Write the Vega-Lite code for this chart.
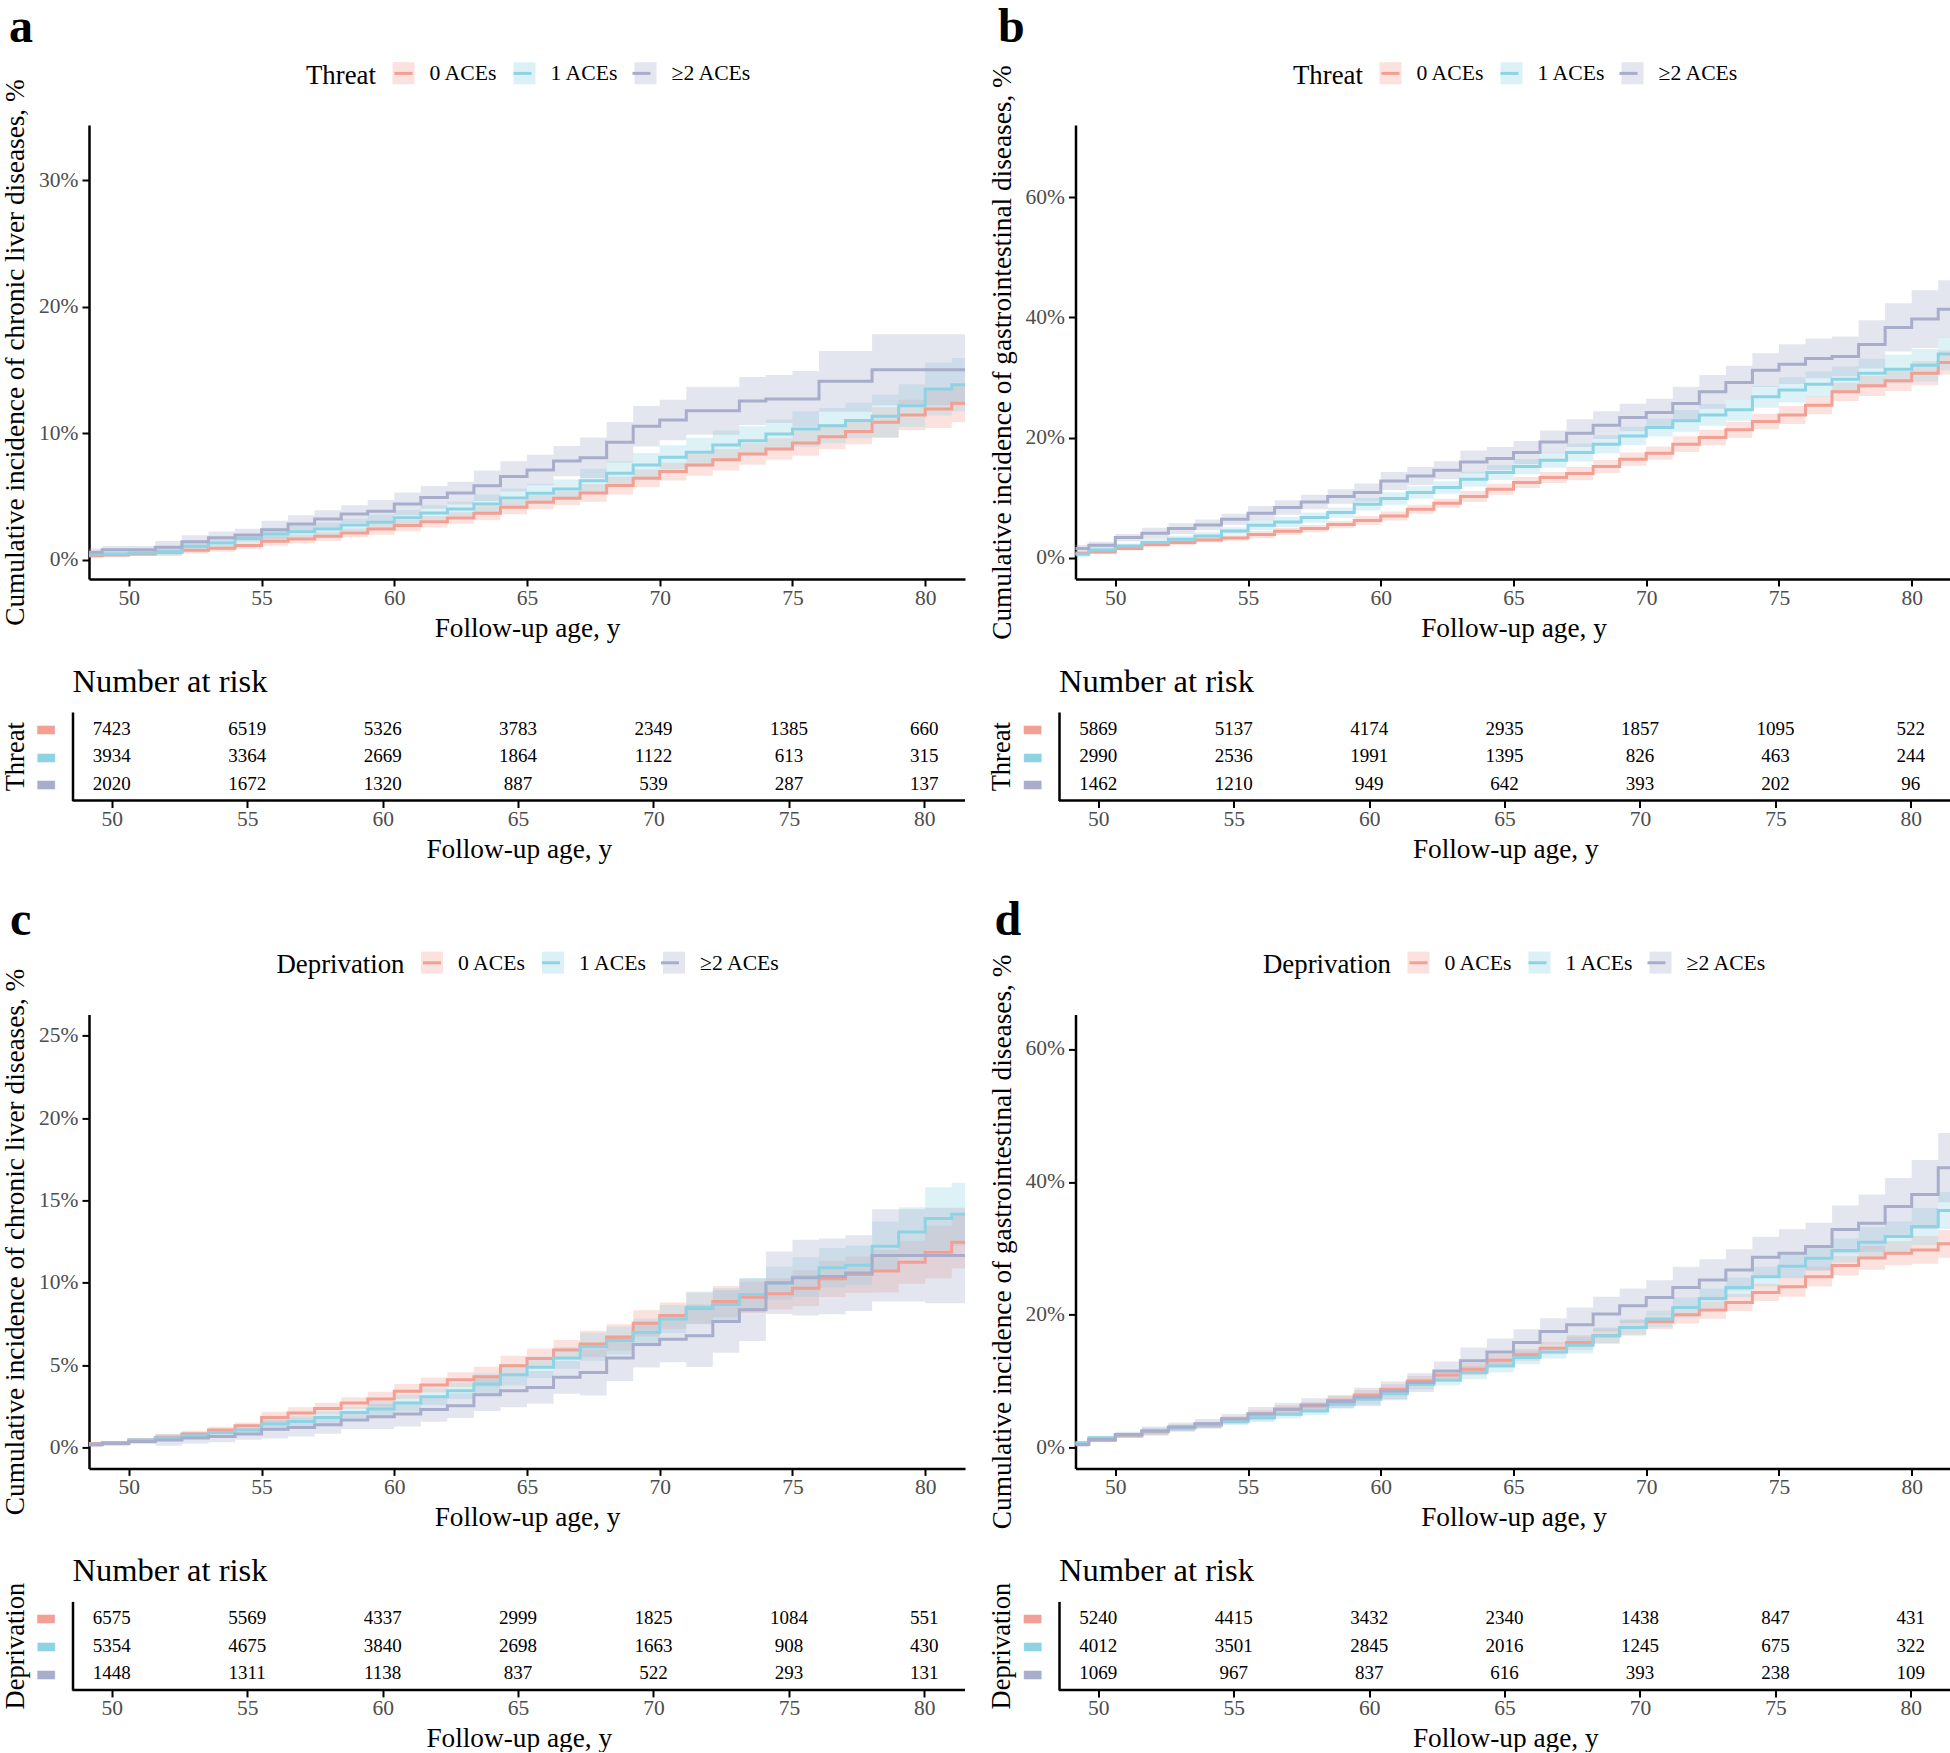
{
"$schema": "https://vega.github.io/schema/vega-lite/v6.json",
"background": "white",
"padding": {"left": 1, "top": 3, "right": 0, "bottom": 0},
"config": {
  "view": {"stroke": null},
  "axis": {"grid": false, "labelFont": "Liberation Serif", "titleFont": "Liberation Serif", "labelFlush": false, "labelOverlap": false, "labelBound": false},
  "legend": {"labelFont": "Liberation Serif", "titleFont": "Liberation Serif"},
  "title": {"font": "Liberation Serif"},
  "text": {"font": "Liberation Serif"}
},
"datasets": {
"cA": [
{"x":48.5,"g":"0 ACEs","y":0.31,"l":0.16,"h":0.46},{"x":49,"g":"0 ACEs","y":0.37,"l":0.22,"h":0.52},{"x":50,"g":"0 ACEs","y":0.44,"l":0.29,"h":0.59},{"x":51,"g":"0 ACEs","y":0.58,"l":0.33,"h":0.83},{"x":52,"g":"0 ACEs","y":0.74,"l":0.49,"h":0.99},{"x":53,"g":"0 ACEs","y":0.9,"l":0.65,"h":1.15},{"x":54,"g":"0 ACEs","y":1.11,"l":0.86,"h":1.36},{"x":55,"g":"0 ACEs","y":1.45,"l":1.1,"h":1.8},{"x":56,"g":"0 ACEs","y":1.63,"l":1.28,"h":1.98},{"x":57,"g":"0 ACEs","y":1.84,"l":1.49,"h":2.19},{"x":58,"g":"0 ACEs","y":2.11,"l":1.76,"h":2.46},{"x":59,"g":"0 ACEs","y":2.42,"l":1.97,"h":2.87},{"x":60,"g":"0 ACEs","y":2.69,"l":2.24,"h":3.14},{"x":61,"g":"0 ACEs","y":3.0,"l":2.55,"h":3.45},{"x":62,"g":"0 ACEs","y":3.29,"l":2.84,"h":3.74},{"x":63,"g":"0 ACEs","y":3.66,"l":3.11,"h":4.21},{"x":64,"g":"0 ACEs","y":4.14,"l":3.59,"h":4.69},{"x":65,"g":"0 ACEs","y":4.53,"l":3.98,"h":5.08},{"x":66,"g":"0 ACEs","y":4.85,"l":4.3,"h":5.4},{"x":67,"g":"0 ACEs","y":5.27,"l":4.57,"h":5.97},{"x":68,"g":"0 ACEs","y":5.85,"l":5.15,"h":6.55},{"x":69,"g":"0 ACEs","y":6.43,"l":5.73,"h":7.13},{"x":70,"g":"0 ACEs","y":6.96,"l":6.26,"h":7.66},{"x":71,"g":"0 ACEs","y":7.48,"l":6.63,"h":8.33},{"x":72,"g":"0 ACEs","y":7.9,"l":7.05,"h":8.75},{"x":73,"g":"0 ACEs","y":8.35,"l":7.5,"h":9.2},{"x":74,"g":"0 ACEs","y":8.75,"l":7.9,"h":9.6},{"x":75,"g":"0 ACEs","y":9.22,"l":8.22,"h":10.22},{"x":76,"g":"0 ACEs","y":9.72,"l":8.72,"h":10.72},{"x":77,"g":"0 ACEs","y":10.12,"l":9.12,"h":11.12},{"x":78,"g":"0 ACEs","y":10.85,"l":9.65,"h":12.05},{"x":79,"g":"0 ACEs","y":11.43,"l":10.23,"h":12.63},{"x":80,"g":"0 ACEs","y":11.9,"l":10.4,"h":13.4},{"x":81,"g":"0 ACEs","y":12.35,"l":10.85,"h":13.85},{"x":81.5,"g":"0 ACEs","y":12.35,"l":10.85,"h":13.85},
{"x":48.5,"g":"1 ACEs","y":0.44,"l":0.24,"h":0.64},{"x":49,"g":"1 ACEs","y":0.44,"l":0.24,"h":0.64},{"x":50,"g":"1 ACEs","y":0.52,"l":0.32,"h":0.72},{"x":51,"g":"1 ACEs","y":0.63,"l":0.28,"h":0.98},{"x":52,"g":"1 ACEs","y":1.05,"l":0.7,"h":1.4},{"x":53,"g":"1 ACEs","y":1.32,"l":0.97,"h":1.67},{"x":54,"g":"1 ACEs","y":1.68,"l":1.33,"h":2.03},{"x":55,"g":"1 ACEs","y":2.02,"l":1.52,"h":2.52},{"x":56,"g":"1 ACEs","y":2.21,"l":1.71,"h":2.71},{"x":57,"g":"1 ACEs","y":2.42,"l":1.92,"h":2.92},{"x":58,"g":"1 ACEs","y":2.74,"l":2.24,"h":3.24},{"x":59,"g":"1 ACEs","y":2.95,"l":2.35,"h":3.55},{"x":60,"g":"1 ACEs","y":3.32,"l":2.72,"h":3.92},{"x":61,"g":"1 ACEs","y":3.69,"l":3.09,"h":4.29},{"x":62,"g":"1 ACEs","y":4.0,"l":3.4,"h":4.6},{"x":63,"g":"1 ACEs","y":4.4,"l":3.65,"h":5.15},{"x":64,"g":"1 ACEs","y":4.87,"l":4.12,"h":5.62},{"x":65,"g":"1 ACEs","y":5.24,"l":4.49,"h":5.99},{"x":66,"g":"1 ACEs","y":5.58,"l":4.83,"h":6.33},{"x":67,"g":"1 ACEs","y":6.24,"l":5.29,"h":7.19},{"x":68,"g":"1 ACEs","y":6.82,"l":5.87,"h":7.77},{"x":69,"g":"1 ACEs","y":7.48,"l":6.53,"h":8.43},{"x":70,"g":"1 ACEs","y":8.09,"l":7.14,"h":9.04},{"x":71,"g":"1 ACEs","y":8.48,"l":7.33,"h":9.63},{"x":72,"g":"1 ACEs","y":9.06,"l":7.91,"h":10.21},{"x":73,"g":"1 ACEs","y":9.4,"l":8.25,"h":10.55},{"x":74,"g":"1 ACEs","y":9.93,"l":8.78,"h":11.08},{"x":75,"g":"1 ACEs","y":10.33,"l":8.93,"h":11.73},{"x":76,"g":"1 ACEs","y":10.59,"l":9.19,"h":11.99},{"x":77,"g":"1 ACEs","y":10.99,"l":9.59,"h":12.39},{"x":78,"g":"1 ACEs","y":11.33,"l":9.63,"h":13.03},{"x":79,"g":"1 ACEs","y":12.17,"l":10.47,"h":13.87},{"x":80,"g":"1 ACEs","y":13.49,"l":11.39,"h":15.59},{"x":81,"g":"1 ACEs","y":13.83,"l":11.73,"h":15.93},{"x":81.5,"g":"1 ACEs","y":13.83,"l":11.73,"h":15.93},
{"x":48.5,"g":"≥2 ACEs","y":0.58,"l":0.28,"h":0.88},{"x":49,"g":"≥2 ACEs","y":0.78,"l":0.48,"h":1.08},{"x":50,"g":"≥2 ACEs","y":0.78,"l":0.48,"h":1.08},{"x":51,"g":"≥2 ACEs","y":0.97,"l":0.47,"h":1.47},{"x":52,"g":"≥2 ACEs","y":1.42,"l":0.92,"h":1.92},{"x":53,"g":"≥2 ACEs","y":1.73,"l":1.23,"h":2.23},{"x":54,"g":"≥2 ACEs","y":1.94,"l":1.44,"h":2.44},{"x":55,"g":"≥2 ACEs","y":2.37,"l":1.67,"h":3.07},{"x":56,"g":"≥2 ACEs","y":2.81,"l":2.11,"h":3.51},{"x":57,"g":"≥2 ACEs","y":3.21,"l":2.51,"h":3.91},{"x":58,"g":"≥2 ACEs","y":3.6,"l":2.9,"h":4.3},{"x":59,"g":"≥2 ACEs","y":3.82,"l":2.92,"h":4.72},{"x":60,"g":"≥2 ACEs","y":4.4,"l":3.5,"h":5.3},{"x":61,"g":"≥2 ACEs","y":4.92,"l":4.02,"h":5.82},{"x":62,"g":"≥2 ACEs","y":5.26,"l":4.36,"h":6.16},{"x":63,"g":"≥2 ACEs","y":5.84,"l":4.64,"h":7.04},{"x":64,"g":"≥2 ACEs","y":6.58,"l":5.38,"h":7.78},{"x":65,"g":"≥2 ACEs","y":7.08,"l":5.88,"h":8.28},{"x":66,"g":"≥2 ACEs","y":7.79,"l":6.59,"h":8.99},{"x":67,"g":"≥2 ACEs","y":8.06,"l":6.46,"h":9.66},{"x":68,"g":"≥2 ACEs","y":9.27,"l":7.67,"h":10.87},{"x":69,"g":"≥2 ACEs","y":10.54,"l":8.94,"h":12.14},{"x":70,"g":"≥2 ACEs","y":11.04,"l":9.44,"h":12.64},{"x":71,"g":"≥2 ACEs","y":11.77,"l":9.87,"h":13.67},{"x":72,"g":"≥2 ACEs","y":11.77,"l":9.87,"h":13.67},{"x":73,"g":"≥2 ACEs","y":12.54,"l":10.64,"h":14.44},{"x":74,"g":"≥2 ACEs","y":12.7,"l":10.8,"h":14.6},{"x":75,"g":"≥2 ACEs","y":12.7,"l":10.5,"h":14.9},{"x":76,"g":"≥2 ACEs","y":14.09,"l":11.69,"h":16.49},{"x":77,"g":"≥2 ACEs","y":14.09,"l":11.69,"h":16.49},{"x":78,"g":"≥2 ACEs","y":15.01,"l":12.21,"h":17.81},{"x":79,"g":"≥2 ACEs","y":15.01,"l":12.21,"h":17.81},{"x":80,"g":"≥2 ACEs","y":15.01,"l":12.21,"h":17.81},{"x":81,"g":"≥2 ACEs","y":15.01,"l":12.21,"h":17.81},{"x":81.5,"g":"≥2 ACEs","y":15.01,"l":12.21,"h":17.81}
],
"cB": [
{"x":48.5,"g":"0 ACEs","y":0.78,"l":0.48,"h":1.08},{"x":49,"g":"0 ACEs","y":1.0,"l":0.7,"h":1.3},{"x":50,"g":"0 ACEs","y":1.56,"l":1.26,"h":1.86},{"x":51,"g":"0 ACEs","y":2.23,"l":1.78,"h":2.68},{"x":52,"g":"0 ACEs","y":2.56,"l":2.11,"h":3.01},{"x":53,"g":"0 ACEs","y":3.0,"l":2.55,"h":3.45},{"x":54,"g":"0 ACEs","y":3.33,"l":2.88,"h":3.78},{"x":55,"g":"0 ACEs","y":3.89,"l":3.29,"h":4.49},{"x":56,"g":"0 ACEs","y":4.44,"l":3.84,"h":5.04},{"x":57,"g":"0 ACEs","y":4.89,"l":4.29,"h":5.49},{"x":58,"g":"0 ACEs","y":5.56,"l":4.96,"h":6.16},{"x":59,"g":"0 ACEs","y":6.22,"l":5.47,"h":6.97},{"x":60,"g":"0 ACEs","y":6.99,"l":6.24,"h":7.74},{"x":61,"g":"0 ACEs","y":8.1,"l":7.35,"h":8.85},{"x":62,"g":"0 ACEs","y":9.1,"l":8.35,"h":9.85},{"x":63,"g":"0 ACEs","y":10.22,"l":9.32,"h":11.12},{"x":64,"g":"0 ACEs","y":11.43,"l":10.53,"h":12.33},{"x":65,"g":"0 ACEs","y":12.55,"l":11.65,"h":13.45},{"x":66,"g":"0 ACEs","y":13.38,"l":12.48,"h":14.28},{"x":67,"g":"0 ACEs","y":14.04,"l":12.94,"h":15.14},{"x":68,"g":"0 ACEs","y":15.21,"l":14.11,"h":16.31},{"x":69,"g":"0 ACEs","y":16.42,"l":15.32,"h":17.52},{"x":70,"g":"0 ACEs","y":17.42,"l":16.32,"h":18.52},{"x":71,"g":"0 ACEs","y":18.92,"l":17.62,"h":20.22},{"x":72,"g":"0 ACEs","y":20.03,"l":18.73,"h":21.33},{"x":73,"g":"0 ACEs","y":21.3,"l":20.0,"h":22.6},{"x":74,"g":"0 ACEs","y":22.7,"l":21.4,"h":24.0},{"x":75,"g":"0 ACEs","y":23.79,"l":22.29,"h":25.29},{"x":76,"g":"0 ACEs","y":25.41,"l":23.91,"h":26.91},{"x":77,"g":"0 ACEs","y":27.62,"l":26.12,"h":29.12},{"x":78,"g":"0 ACEs","y":28.62,"l":26.92,"h":30.32},{"x":79,"g":"0 ACEs","y":29.45,"l":27.75,"h":31.15},{"x":80,"g":"0 ACEs","y":30.73,"l":28.73,"h":32.73},{"x":81,"g":"0 ACEs","y":32.5,"l":30.5,"h":34.5},{"x":81.5,"g":"0 ACEs","y":32.5,"l":30.5,"h":34.5},
{"x":48.5,"g":"1 ACEs","y":0.62,"l":0.22,"h":1.02},{"x":49,"g":"1 ACEs","y":1.33,"l":0.93,"h":1.73},{"x":50,"g":"1 ACEs","y":2.0,"l":1.6,"h":2.4},{"x":51,"g":"1 ACEs","y":2.56,"l":1.96,"h":3.16},{"x":52,"g":"1 ACEs","y":3.11,"l":2.51,"h":3.71},{"x":53,"g":"1 ACEs","y":3.66,"l":3.06,"h":4.26},{"x":54,"g":"1 ACEs","y":4.49,"l":3.89,"h":5.09},{"x":55,"g":"1 ACEs","y":5.44,"l":4.59,"h":6.29},{"x":56,"g":"1 ACEs","y":5.99,"l":5.14,"h":6.84},{"x":57,"g":"1 ACEs","y":6.72,"l":5.87,"h":7.57},{"x":58,"g":"1 ACEs","y":7.55,"l":6.7,"h":8.4},{"x":59,"g":"1 ACEs","y":8.94,"l":7.89,"h":9.99},{"x":60,"g":"1 ACEs","y":9.88,"l":8.83,"h":10.93},{"x":61,"g":"1 ACEs","y":10.88,"l":9.83,"h":11.93},{"x":62,"g":"1 ACEs","y":11.71,"l":10.66,"h":12.76},{"x":63,"g":"1 ACEs","y":13.09,"l":11.84,"h":14.34},{"x":64,"g":"1 ACEs","y":14.2,"l":12.95,"h":15.45},{"x":65,"g":"1 ACEs","y":15.21,"l":13.96,"h":16.46},{"x":66,"g":"1 ACEs","y":16.26,"l":15.01,"h":17.51},{"x":67,"g":"1 ACEs","y":17.54,"l":16.04,"h":19.04},{"x":68,"g":"1 ACEs","y":18.92,"l":17.42,"h":20.42},{"x":69,"g":"1 ACEs","y":20.3,"l":18.8,"h":21.8},{"x":70,"g":"1 ACEs","y":21.7,"l":20.2,"h":23.2},{"x":71,"g":"1 ACEs","y":22.8,"l":21.0,"h":24.6},{"x":72,"g":"1 ACEs","y":23.79,"l":21.99,"h":25.59},{"x":73,"g":"1 ACEs","y":24.63,"l":22.83,"h":26.43},{"x":74,"g":"1 ACEs","y":26.79,"l":24.99,"h":28.59},{"x":75,"g":"1 ACEs","y":27.95,"l":25.85,"h":30.05},{"x":76,"g":"1 ACEs","y":28.9,"l":26.8,"h":31.0},{"x":77,"g":"1 ACEs","y":29.73,"l":27.63,"h":31.83},{"x":78,"g":"1 ACEs","y":30.73,"l":28.33,"h":33.13},{"x":79,"g":"1 ACEs","y":31.4,"l":29.0,"h":33.8},{"x":80,"g":"1 ACEs","y":32.06,"l":29.36,"h":34.76},{"x":81,"g":"1 ACEs","y":33.9,"l":31.2,"h":36.6},{"x":81.5,"g":"1 ACEs","y":33.9,"l":31.2,"h":36.6},
{"x":48.5,"g":"≥2 ACEs","y":1.56,"l":0.96,"h":2.16},{"x":49,"g":"≥2 ACEs","y":2.11,"l":1.51,"h":2.71},{"x":50,"g":"≥2 ACEs","y":3.39,"l":2.79,"h":3.99},{"x":51,"g":"≥2 ACEs","y":4.11,"l":3.21,"h":5.01},{"x":52,"g":"≥2 ACEs","y":4.89,"l":3.99,"h":5.79},{"x":53,"g":"≥2 ACEs","y":5.49,"l":4.59,"h":6.39},{"x":54,"g":"≥2 ACEs","y":6.44,"l":5.54,"h":7.34},{"x":55,"g":"≥2 ACEs","y":7.44,"l":6.24,"h":8.64},{"x":56,"g":"≥2 ACEs","y":8.39,"l":7.19,"h":9.59},{"x":57,"g":"≥2 ACEs","y":9.32,"l":8.12,"h":10.52},{"x":58,"g":"≥2 ACEs","y":10.22,"l":9.02,"h":11.42},{"x":59,"g":"≥2 ACEs","y":10.88,"l":9.38,"h":12.38},{"x":60,"g":"≥2 ACEs","y":12.81,"l":11.31,"h":14.31},{"x":61,"g":"≥2 ACEs","y":13.64,"l":12.14,"h":15.14},{"x":62,"g":"≥2 ACEs","y":14.59,"l":13.09,"h":16.09},{"x":63,"g":"≥2 ACEs","y":15.97,"l":14.07,"h":17.87},{"x":64,"g":"≥2 ACEs","y":16.54,"l":14.64,"h":18.44},{"x":65,"g":"≥2 ACEs","y":17.54,"l":15.64,"h":19.44},{"x":66,"g":"≥2 ACEs","y":19.3,"l":17.4,"h":21.2},{"x":67,"g":"≥2 ACEs","y":20.75,"l":18.45,"h":23.05},{"x":68,"g":"≥2 ACEs","y":22.08,"l":19.78,"h":24.38},{"x":69,"g":"≥2 ACEs","y":23.36,"l":21.06,"h":25.66},{"x":70,"g":"≥2 ACEs","y":24.19,"l":21.89,"h":26.49},{"x":71,"g":"≥2 ACEs","y":25.69,"l":22.89,"h":28.49},{"x":72,"g":"≥2 ACEs","y":27.62,"l":24.82,"h":30.42},{"x":73,"g":"≥2 ACEs","y":29.18,"l":26.38,"h":31.98},{"x":74,"g":"≥2 ACEs","y":31.23,"l":28.43,"h":34.03},{"x":75,"g":"≥2 ACEs","y":32.23,"l":28.93,"h":35.53},{"x":76,"g":"≥2 ACEs","y":33.18,"l":29.88,"h":36.48},{"x":77,"g":"≥2 ACEs","y":33.51,"l":30.21,"h":36.81},{"x":78,"g":"≥2 ACEs","y":35.51,"l":31.51,"h":39.51},{"x":79,"g":"≥2 ACEs","y":38.34,"l":34.34,"h":42.34},{"x":80,"g":"≥2 ACEs","y":39.72,"l":34.92,"h":44.52},{"x":81,"g":"≥2 ACEs","y":41.38,"l":36.58,"h":46.18},{"x":81.5,"g":"≥2 ACEs","y":41.38,"l":36.58,"h":46.18}
],
"cC": [
{"x":48.5,"g":"0 ACEs","y":0.24,"l":0.14,"h":0.34},{"x":49,"g":"0 ACEs","y":0.3,"l":0.2,"h":0.4},{"x":50,"g":"0 ACEs","y":0.45,"l":0.35,"h":0.55},{"x":51,"g":"0 ACEs","y":0.61,"l":0.41,"h":0.81},{"x":52,"g":"0 ACEs","y":0.82,"l":0.62,"h":1.02},{"x":53,"g":"0 ACEs","y":1.06,"l":0.86,"h":1.26},{"x":54,"g":"0 ACEs","y":1.32,"l":1.12,"h":1.52},{"x":55,"g":"0 ACEs","y":1.82,"l":1.47,"h":2.17},{"x":56,"g":"0 ACEs","y":2.09,"l":1.74,"h":2.44},{"x":57,"g":"0 ACEs","y":2.37,"l":2.02,"h":2.72},{"x":58,"g":"0 ACEs","y":2.7,"l":2.35,"h":3.05},{"x":59,"g":"0 ACEs","y":2.94,"l":2.49,"h":3.39},{"x":60,"g":"0 ACEs","y":3.41,"l":2.96,"h":3.86},{"x":61,"g":"0 ACEs","y":3.8,"l":3.35,"h":4.25},{"x":62,"g":"0 ACEs","y":4.12,"l":3.67,"h":4.57},{"x":63,"g":"0 ACEs","y":4.3,"l":3.7,"h":4.9},{"x":64,"g":"0 ACEs","y":4.97,"l":4.37,"h":5.57},{"x":65,"g":"0 ACEs","y":5.41,"l":4.81,"h":6.01},{"x":66,"g":"0 ACEs","y":5.92,"l":5.32,"h":6.52},{"x":67,"g":"0 ACEs","y":6.29,"l":5.49,"h":7.09},{"x":68,"g":"0 ACEs","y":6.69,"l":5.89,"h":7.49},{"x":69,"g":"0 ACEs","y":7.54,"l":6.74,"h":8.34},{"x":70,"g":"0 ACEs","y":8.01,"l":7.21,"h":8.81},{"x":71,"g":"0 ACEs","y":8.46,"l":7.51,"h":9.41},{"x":72,"g":"0 ACEs","y":8.86,"l":7.91,"h":9.81},{"x":73,"g":"0 ACEs","y":9.12,"l":8.17,"h":10.07},{"x":74,"g":"0 ACEs","y":9.33,"l":8.38,"h":10.28},{"x":75,"g":"0 ACEs","y":9.67,"l":8.57,"h":10.77},{"x":76,"g":"0 ACEs","y":10.24,"l":9.14,"h":11.34},{"x":77,"g":"0 ACEs","y":10.5,"l":9.4,"h":11.6},{"x":78,"g":"0 ACEs","y":10.71,"l":9.41,"h":12.01},{"x":79,"g":"0 ACEs","y":11.25,"l":9.95,"h":12.55},{"x":80,"g":"0 ACEs","y":11.86,"l":10.26,"h":13.46},{"x":81,"g":"0 ACEs","y":12.47,"l":10.87,"h":14.07},{"x":81.5,"g":"0 ACEs","y":12.47,"l":10.87,"h":14.07},
{"x":48.5,"g":"1 ACEs","y":0.2,"l":0.1,"h":0.3},{"x":49,"g":"1 ACEs","y":0.28,"l":0.18,"h":0.38},{"x":50,"g":"1 ACEs","y":0.45,"l":0.35,"h":0.55},{"x":51,"g":"1 ACEs","y":0.57,"l":0.37,"h":0.77},{"x":52,"g":"1 ACEs","y":0.71,"l":0.51,"h":0.91},{"x":53,"g":"1 ACEs","y":0.91,"l":0.71,"h":1.11},{"x":54,"g":"1 ACEs","y":1.06,"l":0.86,"h":1.26},{"x":55,"g":"1 ACEs","y":1.42,"l":1.07,"h":1.77},{"x":56,"g":"1 ACEs","y":1.58,"l":1.23,"h":1.93},{"x":57,"g":"1 ACEs","y":1.82,"l":1.47,"h":2.17},{"x":58,"g":"1 ACEs","y":2.13,"l":1.78,"h":2.48},{"x":59,"g":"1 ACEs","y":2.33,"l":1.83,"h":2.83},{"x":60,"g":"1 ACEs","y":2.7,"l":2.2,"h":3.2},{"x":61,"g":"1 ACEs","y":3.08,"l":2.58,"h":3.58},{"x":62,"g":"1 ACEs","y":3.45,"l":2.95,"h":3.95},{"x":63,"g":"1 ACEs","y":3.85,"l":3.2,"h":4.5},{"x":64,"g":"1 ACEs","y":4.42,"l":3.77,"h":5.07},{"x":65,"g":"1 ACEs","y":4.87,"l":4.22,"h":5.52},{"x":66,"g":"1 ACEs","y":5.43,"l":4.78,"h":6.08},{"x":67,"g":"1 ACEs","y":6.12,"l":5.27,"h":6.97},{"x":68,"g":"1 ACEs","y":6.49,"l":5.64,"h":7.34},{"x":69,"g":"1 ACEs","y":6.99,"l":6.14,"h":7.84},{"x":70,"g":"1 ACEs","y":7.81,"l":6.96,"h":8.66},{"x":71,"g":"1 ACEs","y":8.48,"l":7.48,"h":9.48},{"x":72,"g":"1 ACEs","y":8.68,"l":7.68,"h":9.68},{"x":73,"g":"1 ACEs","y":9.29,"l":8.29,"h":10.29},{"x":74,"g":"1 ACEs","y":9.98,"l":8.98,"h":10.98},{"x":75,"g":"1 ACEs","y":10.35,"l":9.15,"h":11.55},{"x":76,"g":"1 ACEs","y":10.92,"l":9.72,"h":12.12},{"x":77,"g":"1 ACEs","y":11.06,"l":9.86,"h":12.26},{"x":78,"g":"1 ACEs","y":12.22,"l":10.72,"h":13.72},{"x":79,"g":"1 ACEs","y":13.09,"l":11.59,"h":14.59},{"x":80,"g":"1 ACEs","y":13.9,"l":12.0,"h":15.8},{"x":81,"g":"1 ACEs","y":14.17,"l":12.27,"h":16.07},{"x":81.5,"g":"1 ACEs","y":14.17,"l":12.27,"h":16.07},
{"x":48.5,"g":"≥2 ACEs","y":0.16,"l":0.01,"h":0.31},{"x":49,"g":"≥2 ACEs","y":0.24,"l":0.09,"h":0.39},{"x":50,"g":"≥2 ACEs","y":0.36,"l":0.21,"h":0.51},{"x":51,"g":"≥2 ACEs","y":0.45,"l":0.1,"h":0.8},{"x":52,"g":"≥2 ACEs","y":0.57,"l":0.22,"h":0.92},{"x":53,"g":"≥2 ACEs","y":0.67,"l":0.32,"h":1.02},{"x":54,"g":"≥2 ACEs","y":0.82,"l":0.47,"h":1.17},{"x":55,"g":"≥2 ACEs","y":1.1,"l":0.55,"h":1.65},{"x":56,"g":"≥2 ACEs","y":1.22,"l":0.67,"h":1.77},{"x":57,"g":"≥2 ACEs","y":1.38,"l":0.83,"h":1.93},{"x":58,"g":"≥2 ACEs","y":1.67,"l":1.12,"h":2.22},{"x":59,"g":"≥2 ACEs","y":1.87,"l":1.12,"h":2.62},{"x":60,"g":"≥2 ACEs","y":2.03,"l":1.28,"h":2.78},{"x":61,"g":"≥2 ACEs","y":2.31,"l":1.56,"h":3.06},{"x":62,"g":"≥2 ACEs","y":2.54,"l":1.79,"h":3.29},{"x":63,"g":"≥2 ACEs","y":3.21,"l":2.21,"h":4.21},{"x":64,"g":"≥2 ACEs","y":3.45,"l":2.45,"h":4.45},{"x":65,"g":"≥2 ACEs","y":3.65,"l":2.65,"h":4.65},{"x":66,"g":"≥2 ACEs","y":4.26,"l":3.26,"h":5.26},{"x":67,"g":"≥2 ACEs","y":4.56,"l":3.16,"h":5.96},{"x":68,"g":"≥2 ACEs","y":5.43,"l":4.03,"h":6.83},{"x":69,"g":"≥2 ACEs","y":6.25,"l":4.85,"h":7.65},{"x":70,"g":"≥2 ACEs","y":6.57,"l":5.17,"h":7.97},{"x":71,"g":"≥2 ACEs","y":6.79,"l":4.89,"h":8.69},{"x":72,"g":"≥2 ACEs","y":7.65,"l":5.75,"h":9.55},{"x":73,"g":"≥2 ACEs","y":8.36,"l":6.46,"h":10.26},{"x":74,"g":"≥2 ACEs","y":10.0,"l":8.1,"h":11.9},{"x":75,"g":"≥2 ACEs","y":10.31,"l":8.01,"h":12.61},{"x":76,"g":"≥2 ACEs","y":10.39,"l":8.09,"h":12.69},{"x":77,"g":"≥2 ACEs","y":10.59,"l":8.29,"h":12.89},{"x":78,"g":"≥2 ACEs","y":11.66,"l":8.86,"h":14.46},{"x":79,"g":"≥2 ACEs","y":11.66,"l":8.86,"h":14.46},{"x":80,"g":"≥2 ACEs","y":11.66,"l":8.76,"h":14.56},{"x":81,"g":"≥2 ACEs","y":11.66,"l":8.76,"h":14.56},{"x":81.5,"g":"≥2 ACEs","y":11.66,"l":8.76,"h":14.56}
],
"cD": [
{"x":48.5,"g":"0 ACEs","y":0.6,"l":0.3,"h":0.9},{"x":49,"g":"0 ACEs","y":1.12,"l":0.82,"h":1.42},{"x":50,"g":"0 ACEs","y":1.76,"l":1.46,"h":2.06},{"x":51,"g":"0 ACEs","y":2.41,"l":1.96,"h":2.86},{"x":52,"g":"0 ACEs","y":3.02,"l":2.57,"h":3.47},{"x":53,"g":"0 ACEs","y":3.42,"l":2.97,"h":3.87},{"x":54,"g":"0 ACEs","y":4.28,"l":3.83,"h":4.73},{"x":55,"g":"0 ACEs","y":5.04,"l":4.44,"h":5.64},{"x":56,"g":"0 ACEs","y":5.79,"l":5.19,"h":6.39},{"x":57,"g":"0 ACEs","y":6.29,"l":5.69,"h":6.89},{"x":58,"g":"0 ACEs","y":7.15,"l":6.55,"h":7.75},{"x":59,"g":"0 ACEs","y":7.95,"l":7.2,"h":8.7},{"x":60,"g":"0 ACEs","y":8.81,"l":8.06,"h":9.56},{"x":61,"g":"0 ACEs","y":10.06,"l":9.31,"h":10.81},{"x":62,"g":"0 ACEs","y":10.97,"l":10.22,"h":11.72},{"x":63,"g":"0 ACEs","y":11.82,"l":10.92,"h":12.72},{"x":64,"g":"0 ACEs","y":13.18,"l":12.28,"h":14.08},{"x":65,"g":"0 ACEs","y":13.98,"l":13.08,"h":14.88},{"x":66,"g":"0 ACEs","y":14.99,"l":14.09,"h":15.89},{"x":67,"g":"0 ACEs","y":15.84,"l":14.74,"h":16.94},{"x":68,"g":"0 ACEs","y":16.85,"l":15.75,"h":17.95},{"x":69,"g":"0 ACEs","y":18.1,"l":17.0,"h":19.2},{"x":70,"g":"0 ACEs","y":18.96,"l":17.86,"h":20.06},{"x":71,"g":"0 ACEs","y":20.01,"l":18.71,"h":21.31},{"x":72,"g":"0 ACEs","y":20.72,"l":19.42,"h":22.02},{"x":73,"g":"0 ACEs","y":21.87,"l":20.57,"h":23.17},{"x":74,"g":"0 ACEs","y":23.38,"l":22.08,"h":24.68},{"x":75,"g":"0 ACEs","y":24.24,"l":22.74,"h":25.74},{"x":76,"g":"0 ACEs","y":25.75,"l":24.25,"h":27.25},{"x":77,"g":"0 ACEs","y":27.41,"l":25.91,"h":28.91},{"x":78,"g":"0 ACEs","y":28.57,"l":26.77,"h":30.37},{"x":79,"g":"0 ACEs","y":29.26,"l":27.46,"h":31.06},{"x":80,"g":"0 ACEs","y":29.77,"l":27.67,"h":31.87},{"x":81,"g":"0 ACEs","y":30.68,"l":28.58,"h":32.78},{"x":81.5,"g":"0 ACEs","y":30.68,"l":28.58,"h":32.78},
{"x":48.5,"g":"1 ACEs","y":0.75,"l":0.45,"h":1.05},{"x":49,"g":"1 ACEs","y":1.51,"l":1.21,"h":1.81},{"x":50,"g":"1 ACEs","y":1.92,"l":1.62,"h":2.22},{"x":51,"g":"1 ACEs","y":2.52,"l":2.02,"h":3.02},{"x":52,"g":"1 ACEs","y":3.02,"l":2.52,"h":3.52},{"x":53,"g":"1 ACEs","y":3.42,"l":2.92,"h":3.92},{"x":54,"g":"1 ACEs","y":3.92,"l":3.42,"h":4.42},{"x":55,"g":"1 ACEs","y":4.52,"l":3.87,"h":5.17},{"x":56,"g":"1 ACEs","y":5.04,"l":4.39,"h":5.69},{"x":57,"g":"1 ACEs","y":5.54,"l":4.89,"h":6.19},{"x":58,"g":"1 ACEs","y":6.55,"l":5.9,"h":7.2},{"x":59,"g":"1 ACEs","y":7.3,"l":6.5,"h":8.1},{"x":60,"g":"1 ACEs","y":8.14,"l":7.34,"h":8.94},{"x":61,"g":"1 ACEs","y":9.56,"l":8.76,"h":10.36},{"x":62,"g":"1 ACEs","y":10.17,"l":9.37,"h":10.97},{"x":63,"g":"1 ACEs","y":11.31,"l":10.31,"h":12.31},{"x":64,"g":"1 ACEs","y":12.32,"l":11.32,"h":13.32},{"x":65,"g":"1 ACEs","y":13.57,"l":12.57,"h":14.57},{"x":66,"g":"1 ACEs","y":14.43,"l":13.43,"h":15.43},{"x":67,"g":"1 ACEs","y":15.44,"l":14.19,"h":16.69},{"x":68,"g":"1 ACEs","y":16.85,"l":15.6,"h":18.1},{"x":69,"g":"1 ACEs","y":18.1,"l":16.85,"h":19.35},{"x":70,"g":"1 ACEs","y":19.37,"l":18.12,"h":20.62},{"x":71,"g":"1 ACEs","y":21.12,"l":19.62,"h":22.62},{"x":72,"g":"1 ACEs","y":22.47,"l":20.97,"h":23.97},{"x":73,"g":"1 ACEs","y":24.13,"l":22.63,"h":25.63},{"x":74,"g":"1 ACEs","y":25.75,"l":24.25,"h":27.25},{"x":75,"g":"1 ACEs","y":27.3,"l":25.5,"h":29.1},{"x":76,"g":"1 ACEs","y":28.51,"l":26.71,"h":30.31},{"x":77,"g":"1 ACEs","y":29.67,"l":27.87,"h":31.47},{"x":78,"g":"1 ACEs","y":30.92,"l":28.62,"h":33.22},{"x":79,"g":"1 ACEs","y":31.78,"l":29.48,"h":34.08},{"x":80,"g":"1 ACEs","y":33.29,"l":30.49,"h":36.09},{"x":81,"g":"1 ACEs","y":35.7,"l":32.9,"h":38.5},{"x":81.5,"g":"1 ACEs","y":35.7,"l":32.9,"h":38.5},
{"x":48.5,"g":"≥2 ACEs","y":0.5,"l":0.1,"h":0.9},{"x":49,"g":"≥2 ACEs","y":1.26,"l":0.86,"h":1.66},{"x":50,"g":"≥2 ACEs","y":2.01,"l":1.61,"h":2.41},{"x":51,"g":"≥2 ACEs","y":2.52,"l":1.82,"h":3.22},{"x":52,"g":"≥2 ACEs","y":3.12,"l":2.42,"h":3.82},{"x":53,"g":"≥2 ACEs","y":3.62,"l":2.92,"h":4.32},{"x":54,"g":"≥2 ACEs","y":4.37,"l":3.67,"h":5.07},{"x":55,"g":"≥2 ACEs","y":5.13,"l":4.13,"h":6.13},{"x":56,"g":"≥2 ACEs","y":5.79,"l":4.79,"h":6.79},{"x":57,"g":"≥2 ACEs","y":6.44,"l":5.44,"h":7.44},{"x":58,"g":"≥2 ACEs","y":6.95,"l":5.95,"h":7.95},{"x":59,"g":"≥2 ACEs","y":7.65,"l":6.25,"h":9.05},{"x":60,"g":"≥2 ACEs","y":8.56,"l":7.16,"h":9.96},{"x":61,"g":"≥2 ACEs","y":9.81,"l":8.41,"h":11.21},{"x":62,"g":"≥2 ACEs","y":11.57,"l":10.17,"h":12.97},{"x":63,"g":"≥2 ACEs","y":13.08,"l":11.08,"h":15.08},{"x":64,"g":"≥2 ACEs","y":14.43,"l":12.43,"h":16.43},{"x":65,"g":"≥2 ACEs","y":15.84,"l":13.84,"h":17.84},{"x":66,"g":"≥2 ACEs","y":17.5,"l":15.5,"h":19.5},{"x":67,"g":"≥2 ACEs","y":18.51,"l":15.91,"h":21.11},{"x":68,"g":"≥2 ACEs","y":20.12,"l":17.52,"h":22.72},{"x":69,"g":"≥2 ACEs","y":21.37,"l":18.77,"h":23.97},{"x":70,"g":"≥2 ACEs","y":22.62,"l":20.02,"h":25.22},{"x":71,"g":"≥2 ACEs","y":24.13,"l":21.03,"h":27.23},{"x":72,"g":"≥2 ACEs","y":25.25,"l":22.15,"h":28.35},{"x":73,"g":"≥2 ACEs","y":26.76,"l":23.66,"h":29.86},{"x":74,"g":"≥2 ACEs","y":28.66,"l":25.56,"h":31.76},{"x":75,"g":"≥2 ACEs","y":29.26,"l":25.66,"h":32.86},{"x":76,"g":"≥2 ACEs","y":30.27,"l":26.67,"h":33.87},{"x":77,"g":"≥2 ACEs","y":32.84,"l":29.24,"h":36.44},{"x":78,"g":"≥2 ACEs","y":33.79,"l":29.49,"h":38.09},{"x":79,"g":"≥2 ACEs","y":36.3,"l":32.0,"h":40.6},{"x":80,"g":"≥2 ACEs","y":38.11,"l":32.91,"h":43.31},{"x":81,"g":"≥2 ACEs","y":42.14,"l":36.94,"h":47.34},{"x":81.5,"g":"≥2 ACEs","y":42.14,"l":36.94,"h":47.34}
],
"rA": [
{"x":50,"g":"0 ACEs","n":7423},{"x":55,"g":"0 ACEs","n":6519},{"x":60,"g":"0 ACEs","n":5326},{"x":65,"g":"0 ACEs","n":3783},{"x":70,"g":"0 ACEs","n":2349},{"x":75,"g":"0 ACEs","n":1385},{"x":80,"g":"0 ACEs","n":660},
{"x":50,"g":"1 ACEs","n":3934},{"x":55,"g":"1 ACEs","n":3364},{"x":60,"g":"1 ACEs","n":2669},{"x":65,"g":"1 ACEs","n":1864},{"x":70,"g":"1 ACEs","n":1122},{"x":75,"g":"1 ACEs","n":613},{"x":80,"g":"1 ACEs","n":315},
{"x":50,"g":"≥2 ACEs","n":2020},{"x":55,"g":"≥2 ACEs","n":1672},{"x":60,"g":"≥2 ACEs","n":1320},{"x":65,"g":"≥2 ACEs","n":887},{"x":70,"g":"≥2 ACEs","n":539},{"x":75,"g":"≥2 ACEs","n":287},{"x":80,"g":"≥2 ACEs","n":137}
],
"rB": [
{"x":50,"g":"0 ACEs","n":5869},{"x":55,"g":"0 ACEs","n":5137},{"x":60,"g":"0 ACEs","n":4174},{"x":65,"g":"0 ACEs","n":2935},{"x":70,"g":"0 ACEs","n":1857},{"x":75,"g":"0 ACEs","n":1095},{"x":80,"g":"0 ACEs","n":522},
{"x":50,"g":"1 ACEs","n":2990},{"x":55,"g":"1 ACEs","n":2536},{"x":60,"g":"1 ACEs","n":1991},{"x":65,"g":"1 ACEs","n":1395},{"x":70,"g":"1 ACEs","n":826},{"x":75,"g":"1 ACEs","n":463},{"x":80,"g":"1 ACEs","n":244},
{"x":50,"g":"≥2 ACEs","n":1462},{"x":55,"g":"≥2 ACEs","n":1210},{"x":60,"g":"≥2 ACEs","n":949},{"x":65,"g":"≥2 ACEs","n":642},{"x":70,"g":"≥2 ACEs","n":393},{"x":75,"g":"≥2 ACEs","n":202},{"x":80,"g":"≥2 ACEs","n":96}
],
"rC": [
{"x":50,"g":"0 ACEs","n":6575},{"x":55,"g":"0 ACEs","n":5569},{"x":60,"g":"0 ACEs","n":4337},{"x":65,"g":"0 ACEs","n":2999},{"x":70,"g":"0 ACEs","n":1825},{"x":75,"g":"0 ACEs","n":1084},{"x":80,"g":"0 ACEs","n":551},
{"x":50,"g":"1 ACEs","n":5354},{"x":55,"g":"1 ACEs","n":4675},{"x":60,"g":"1 ACEs","n":3840},{"x":65,"g":"1 ACEs","n":2698},{"x":70,"g":"1 ACEs","n":1663},{"x":75,"g":"1 ACEs","n":908},{"x":80,"g":"1 ACEs","n":430},
{"x":50,"g":"≥2 ACEs","n":1448},{"x":55,"g":"≥2 ACEs","n":1311},{"x":60,"g":"≥2 ACEs","n":1138},{"x":65,"g":"≥2 ACEs","n":837},{"x":70,"g":"≥2 ACEs","n":522},{"x":75,"g":"≥2 ACEs","n":293},{"x":80,"g":"≥2 ACEs","n":131}
],
"rD": [
{"x":50,"g":"0 ACEs","n":5240},{"x":55,"g":"0 ACEs","n":4415},{"x":60,"g":"0 ACEs","n":3432},{"x":65,"g":"0 ACEs","n":2340},{"x":70,"g":"0 ACEs","n":1438},{"x":75,"g":"0 ACEs","n":847},{"x":80,"g":"0 ACEs","n":431},
{"x":50,"g":"1 ACEs","n":4012},{"x":55,"g":"1 ACEs","n":3501},{"x":60,"g":"1 ACEs","n":2845},{"x":65,"g":"1 ACEs","n":2016},{"x":70,"g":"1 ACEs","n":1245},{"x":75,"g":"1 ACEs","n":675},{"x":80,"g":"1 ACEs","n":322},
{"x":50,"g":"≥2 ACEs","n":1069},{"x":55,"g":"≥2 ACEs","n":967},{"x":60,"g":"≥2 ACEs","n":837},{"x":65,"g":"≥2 ACEs","n":616},{"x":70,"g":"≥2 ACEs","n":393},{"x":75,"g":"≥2 ACEs","n":238},{"x":80,"g":"≥2 ACEs","n":109}
]
},
"spacing": 33.4,
"resolve": {"scale": {"fill": "independent", "stroke": "independent"}, "legend": {"fill": "independent", "stroke": "independent"}},
"vconcat": [
{
"columns": 2, "bounds": "flush", "spacing": {"row": 133, "column": 110.5},
"resolve": {"scale": {"fill": "independent", "stroke": "independent"}, "legend": {"fill": "independent", "stroke": "independent"}},
"concat": [
{
 "width": 876, "height": 454,
 "data": {"name": "cA"},
 "title": {"text": "a", "anchor": "start", "frame": "group", "dx": -80, "offset": -29.4, "fontSize": 48, "fontWeight": "bold", "color": "black", "baseline": "alphabetic"},
 "layer": [
  {"mark": {"type": "area", "interpolate": "step-after", "fillOpacity": 0.3},
   "encoding": {
    "x": {"field": "x", "type": "quantitative", "scale": {"domain": [48.5, 81.5], "nice": false, "zero": false},
      "axis": {"title": "Follow-up age, y", "values": [50,55,60,65,70,75,80], "domainColor": "black", "domainWidth": 2.5, "tickColor": "black", "tickWidth": 2, "tickSize": 7, "labelFontSize": 21.5, "labelColor": "#4D4D4D", "labelPadding": 12, "labelBaseline": "middle", "titleFontSize": 27.3, "titleFontWeight": "normal", "titleColor": "black", "titleBaseline": "middle", "titleY": 49}},
    "y": {"field": "l", "type": "quantitative", "scale": {"domain": [-1.53, 34.35], "nice": false, "zero": false},
      "axis": {"title": "Cumulative incidence of chronic liver diseases, %", "values": [0,10,20,30], "labelExpr": "datum.value + '%'", "domainColor": "black", "domainWidth": 2.5, "tickColor": "black", "tickWidth": 2, "tickSize": 7, "labelFontSize": 21.5, "labelColor": "#4D4D4D", "labelPadding": 4, "titleFontSize": 27.3, "titleFontWeight": "normal", "titleColor": "black", "titleBaseline": "middle", "titleX": -73.5}},
    "y2": {"field": "h"},
    "fill": {"field": "g", "type": "nominal", "scale": {"domain": ["0 ACEs","1 ACEs","≥2 ACEs"], "range": ["#F2A093","#8DD3E3","#A7ADCB"]},
      "legend": {"orient": "none", "legendX": 217, "legendY": -64.5, "direction": "horizontal", "titleOrient": "left", "title": "Threat", "titleFontSize": 26.8, "titleFontWeight": "normal", "titleColor": "black", "titlePadding": 15, "titleBaseline": "middle", "titleAnchor": "middle", "labelFontSize": 21.7, "labelColor": "black", "labelOffset": 13.5, "columnPadding": 9, "symbolType": "square", "symbolSize": 484, "symbolStrokeWidth": 3, "symbolStrokeColor": "transparent", "symbolOpacity": 0.3, "padding": 0}}
   }},
  {"mark": {"type": "line", "interpolate": "step-after", "strokeWidth": 3},
   "encoding": {
    "x": {"field": "x", "type": "quantitative"},
    "y": {"field": "y", "type": "quantitative"},
    "stroke": {"field": "g", "type": "nominal", "scale": {"range": ["#F2A093","#8DD3E3","#A7ADCB"]},
      "legend": {"orient": "none", "legendX": 217, "legendY": -64.5, "direction": "horizontal", "titleOrient": "left", "title": "Threat", "titleFontSize": 26.8, "titleFontWeight": "normal", "titleColor": "black", "titlePadding": 15, "titleBaseline": "middle", "titleAnchor": "middle", "titleOpacity": 0, "labelFontSize": 21.7, "labelColor": "black", "labelOpacity": 0, "labelOffset": 13.5, "columnPadding": 9, "symbolType": "M-0.82,0H0.82", "symbolSize": 484, "symbolStrokeWidth": 3, "symbolOpacity": 1, "padding": 0}}
   }}
 ]
},
{
 "width": 876, "height": 454,
 "data": {"name": "cB"},
 "title": {"text": "b", "anchor": "start", "frame": "group", "dx": -77.5, "offset": -29.4, "fontSize": 48, "fontWeight": "bold", "color": "black", "baseline": "alphabetic"},
 "layer": [
  {"mark": {"type": "area", "interpolate": "step-after", "fillOpacity": 0.3},
   "encoding": {
    "x": {"field": "x", "type": "quantitative", "scale": {"domain": [48.5, 81.5], "nice": false, "zero": false},
      "axis": {"title": "Follow-up age, y", "values": [50,55,60,65,70,75,80], "domainColor": "black", "domainWidth": 2.5, "tickColor": "black", "tickWidth": 2, "tickSize": 7, "labelFontSize": 21.5, "labelColor": "#4D4D4D", "labelPadding": 12, "labelBaseline": "middle", "titleFontSize": 27.3, "titleFontWeight": "normal", "titleColor": "black", "titleBaseline": "middle", "titleY": 49}},
    "y": {"field": "l", "type": "quantitative", "scale": {"domain": [-3.5, 72], "nice": false, "zero": false},
      "axis": {"title": "Cumulative incidence of gastrointestinal diseases, %", "values": [0,20,40,60], "labelExpr": "datum.value + '%'", "domainColor": "black", "domainWidth": 2.5, "tickColor": "black", "tickWidth": 2, "tickSize": 7, "labelFontSize": 21.5, "labelColor": "#4D4D4D", "labelPadding": 4, "titleFontSize": 27.3, "titleFontWeight": "normal", "titleColor": "black", "titleBaseline": "middle", "titleX": -73.5}},
    "y2": {"field": "h"},
    "fill": {"field": "g", "type": "nominal", "scale": {"domain": ["0 ACEs","1 ACEs","≥2 ACEs"], "range": ["#F2A093","#8DD3E3","#A7ADCB"]},
      "legend": {"orient": "none", "legendX": 217.5, "legendY": -64.5, "direction": "horizontal", "titleOrient": "left", "title": "Threat", "titleFontSize": 26.8, "titleFontWeight": "normal", "titleColor": "black", "titlePadding": 15, "titleBaseline": "middle", "titleAnchor": "middle", "labelFontSize": 21.7, "labelColor": "black", "labelOffset": 13.5, "columnPadding": 9, "symbolType": "square", "symbolSize": 484, "symbolStrokeWidth": 3, "symbolStrokeColor": "transparent", "symbolOpacity": 0.3, "padding": 0}}
   }},
  {"mark": {"type": "line", "interpolate": "step-after", "strokeWidth": 3},
   "encoding": {
    "x": {"field": "x", "type": "quantitative"},
    "y": {"field": "y", "type": "quantitative"},
    "stroke": {"field": "g", "type": "nominal", "scale": {"range": ["#F2A093","#8DD3E3","#A7ADCB"]},
      "legend": {"orient": "none", "legendX": 217.5, "legendY": -64.5, "direction": "horizontal", "titleOrient": "left", "title": "Threat", "titleFontSize": 26.8, "titleFontWeight": "normal", "titleColor": "black", "titlePadding": 15, "titleBaseline": "middle", "titleAnchor": "middle", "titleOpacity": 0, "labelFontSize": 21.7, "labelColor": "black", "labelOpacity": 0, "labelOffset": 13.5, "columnPadding": 9, "symbolType": "M-0.82,0H0.82", "symbolSize": 484, "symbolStrokeWidth": 3, "symbolOpacity": 1, "padding": 0}}
   }}
 ]
},
{
 "width": 876, "height": 88.5,
 "title": {"text": "Number at risk", "anchor": "start", "frame": "group", "dx": -16.5, "offset": -12.7, "fontSize": 32.5, "fontWeight": "normal", "color": "black", "baseline": "alphabetic"},
 "resolve": {"scale": {"y": "independent"}},
 "layer": [
  {"data": {"name": "rA"}, "mark": {"type": "text", "fontSize": 19, "font": "Liberation Serif", "color": "black"},
   "encoding": {
    "x": {"field": "x", "type": "quantitative", "scale": {"domain": [49.16, 81.5], "nice": false, "zero": false},
      "axis": {"title": "Follow-up age, y", "values": [50,55,60,65,70,75,80], "domain": false, "tickColor": "black", "tickWidth": 2, "tickSize": 7, "labelFontSize": 21.5, "labelColor": "#4D4D4D", "labelPadding": 12, "labelBaseline": "middle", "titleFontSize": 27.3, "titleFontWeight": "normal", "titleColor": "black", "titleBaseline": "middle", "titleY": 48.5, "titleX": 429.75, "titleAlign": "center"}},
    "y": {"field": "g", "type": "nominal", "scale": {"type": "point", "padding": 0.6, "domain": ["0 ACEs","1 ACEs","≥2 ACEs"]},
      "axis": {"title": "Threat", "offset": 16.5, "domainColor": "black", "domainWidth": 2.5, "ticks": false, "tickSize": 0, "labelExpr": "'▬'", "labelFont": "DejaVu Sans", "labelFontSize": 23, "labelPadding": 16, "titleFontSize": 26.5, "titleFontWeight": "normal", "titleColor": "black", "titleBaseline": "middle", "titleX": -57.5,
        "labelColor": {"condition": [{"test": "datum.value === '0 ACEs'", "value": "#F2A093"}, {"test": "datum.value === '1 ACEs'", "value": "#8DD3E3"}], "value": "#A7ADCB"}}},
    "text": {"field": "n", "type": "quantitative", "format": "d"}
   }},
  {"data": {"values": [{}]}, "mark": {"type": "rule", "color": "black", "strokeWidth": 2.5},
   "encoding": {"x": {"datum": 48.55, "type": "quantitative"}, "x2": {"datum": 81.5}, "y": {"datum": 0, "type": "quantitative", "scale": {"domain": [0, 1]}, "axis": null}}}
 ]
},
{
 "width": 876, "height": 88.5,
 "title": {"text": "Number at risk", "anchor": "start", "frame": "group", "dx": -16.5, "offset": -12.7, "fontSize": 32.5, "fontWeight": "normal", "color": "black", "baseline": "alphabetic"},
 "resolve": {"scale": {"y": "independent"}},
 "layer": [
  {"data": {"name": "rB"}, "mark": {"type": "text", "fontSize": 19, "font": "Liberation Serif", "color": "black"},
   "encoding": {
    "x": {"field": "x", "type": "quantitative", "scale": {"domain": [49.16, 81.5], "nice": false, "zero": false},
      "axis": {"title": "Follow-up age, y", "values": [50,55,60,65,70,75,80], "domain": false, "tickColor": "black", "tickWidth": 2, "tickSize": 7, "labelFontSize": 21.5, "labelColor": "#4D4D4D", "labelPadding": 12, "labelBaseline": "middle", "titleFontSize": 27.3, "titleFontWeight": "normal", "titleColor": "black", "titleBaseline": "middle", "titleY": 48.5, "titleX": 429.75, "titleAlign": "center"}},
    "y": {"field": "g", "type": "nominal", "scale": {"type": "point", "padding": 0.6, "domain": ["0 ACEs","1 ACEs","≥2 ACEs"]},
      "axis": {"title": "Threat", "offset": 16.5, "domainColor": "black", "domainWidth": 2.5, "ticks": false, "tickSize": 0, "labelExpr": "'▬'", "labelFont": "DejaVu Sans", "labelFontSize": 23, "labelPadding": 16, "titleFontSize": 26.5, "titleFontWeight": "normal", "titleColor": "black", "titleBaseline": "middle", "titleX": -57.5,
        "labelColor": {"condition": [{"test": "datum.value === '0 ACEs'", "value": "#F2A093"}, {"test": "datum.value === '1 ACEs'", "value": "#8DD3E3"}], "value": "#A7ADCB"}}},
    "text": {"field": "n", "type": "quantitative", "format": "d"}
   }},
  {"data": {"values": [{}]}, "mark": {"type": "rule", "color": "black", "strokeWidth": 2.5},
   "encoding": {"x": {"datum": 48.55, "type": "quantitative"}, "x2": {"datum": 81.5}, "y": {"datum": 0, "type": "quantitative", "scale": {"domain": [0, 1]}, "axis": null}}}
 ]
}
]
},
{
"columns": 2, "bounds": "flush", "spacing": {"row": 133, "column": 110.5},
"resolve": {"scale": {"fill": "independent", "stroke": "independent"}, "legend": {"fill": "independent", "stroke": "independent"}},
"concat": [
{
 "width": 876, "height": 454,
 "data": {"name": "cC"},
 "title": {"text": "c", "anchor": "start", "frame": "group", "dx": -79, "offset": -32.7, "fontSize": 48, "fontWeight": "bold", "color": "black", "baseline": "alphabetic"},
 "layer": [
  {"mark": {"type": "area", "interpolate": "step-after", "fillOpacity": 0.3},
   "encoding": {
    "x": {"field": "x", "type": "quantitative", "scale": {"domain": [48.5, 81.5], "nice": false, "zero": false},
      "axis": {"title": "Follow-up age, y", "values": [50,55,60,65,70,75,80], "domainColor": "black", "domainWidth": 2.5, "tickColor": "black", "tickWidth": 2, "tickSize": 7, "labelFontSize": 21.5, "labelColor": "#4D4D4D", "labelPadding": 12, "labelBaseline": "middle", "titleFontSize": 27.3, "titleFontWeight": "normal", "titleColor": "black", "titleBaseline": "middle", "titleY": 49}},
    "y": {"field": "l", "type": "quantitative", "scale": {"domain": [-1.27, 26.3], "nice": false, "zero": false},
      "axis": {"title": "Cumulative incidence of chronic liver diseases, %", "values": [0,5,10,15,20,25], "labelExpr": "datum.value + '%'", "domainColor": "black", "domainWidth": 2.5, "tickColor": "black", "tickWidth": 2, "tickSize": 7, "labelFontSize": 21.5, "labelColor": "#4D4D4D", "labelPadding": 4, "titleFontSize": 27.3, "titleFontWeight": "normal", "titleColor": "black", "titleBaseline": "middle", "titleX": -73.5}},
    "y2": {"field": "h"},
    "fill": {"field": "g", "type": "nominal", "scale": {"domain": ["0 ACEs","1 ACEs","≥2 ACEs"], "range": ["#F2A093","#8DD3E3","#A7ADCB"]},
      "legend": {"orient": "none", "legendX": 187.5, "legendY": -64.5, "direction": "horizontal", "titleOrient": "left", "title": "Deprivation", "titleFontSize": 26.8, "titleFontWeight": "normal", "titleColor": "black", "titlePadding": 15, "titleBaseline": "middle", "titleAnchor": "middle", "labelFontSize": 21.7, "labelColor": "black", "labelOffset": 13.5, "columnPadding": 9, "symbolType": "square", "symbolSize": 484, "symbolStrokeWidth": 3, "symbolStrokeColor": "transparent", "symbolOpacity": 0.3, "padding": 0}}
   }},
  {"mark": {"type": "line", "interpolate": "step-after", "strokeWidth": 3},
   "encoding": {
    "x": {"field": "x", "type": "quantitative"},
    "y": {"field": "y", "type": "quantitative"},
    "stroke": {"field": "g", "type": "nominal", "scale": {"range": ["#F2A093","#8DD3E3","#A7ADCB"]},
      "legend": {"orient": "none", "legendX": 187.5, "legendY": -64.5, "direction": "horizontal", "titleOrient": "left", "title": "Deprivation", "titleFontSize": 26.8, "titleFontWeight": "normal", "titleColor": "black", "titlePadding": 15, "titleBaseline": "middle", "titleAnchor": "middle", "titleOpacity": 0, "labelFontSize": 21.7, "labelColor": "black", "labelOpacity": 0, "labelOffset": 13.5, "columnPadding": 9, "symbolType": "M-0.82,0H0.82", "symbolSize": 484, "symbolStrokeWidth": 3, "symbolOpacity": 1, "padding": 0}}
   }}
 ]
},
{
 "width": 876, "height": 454,
 "data": {"name": "cD"},
 "title": {"text": "d", "anchor": "start", "frame": "group", "dx": -81, "offset": -32.7, "fontSize": 48, "fontWeight": "bold", "color": "black", "baseline": "alphabetic"},
 "layer": [
  {"mark": {"type": "area", "interpolate": "step-after", "fillOpacity": 0.3},
   "encoding": {
    "x": {"field": "x", "type": "quantitative", "scale": {"domain": [48.5, 81.5], "nice": false, "zero": false},
      "axis": {"title": "Follow-up age, y", "values": [50,55,60,65,70,75,80], "domainColor": "black", "domainWidth": 2.5, "tickColor": "black", "tickWidth": 2, "tickSize": 7, "labelFontSize": 21.5, "labelColor": "#4D4D4D", "labelPadding": 12, "labelBaseline": "middle", "titleFontSize": 27.3, "titleFontWeight": "normal", "titleColor": "black", "titleBaseline": "middle", "titleY": 49}},
    "y": {"field": "l", "type": "quantitative", "scale": {"domain": [-3.1, 65.2], "nice": false, "zero": false},
      "axis": {"title": "Cumulative incidence of gastrointestinal diseases, %", "values": [0,20,40,60], "labelExpr": "datum.value + '%'", "domainColor": "black", "domainWidth": 2.5, "tickColor": "black", "tickWidth": 2, "tickSize": 7, "labelFontSize": 21.5, "labelColor": "#4D4D4D", "labelPadding": 4, "titleFontSize": 27.3, "titleFontWeight": "normal", "titleColor": "black", "titleBaseline": "middle", "titleX": -73.5}},
    "y2": {"field": "h"},
    "fill": {"field": "g", "type": "nominal", "scale": {"domain": ["0 ACEs","1 ACEs","≥2 ACEs"], "range": ["#F2A093","#8DD3E3","#A7ADCB"]},
      "legend": {"orient": "none", "legendX": 187.5, "legendY": -64.5, "direction": "horizontal", "titleOrient": "left", "title": "Deprivation", "titleFontSize": 26.8, "titleFontWeight": "normal", "titleColor": "black", "titlePadding": 15, "titleBaseline": "middle", "titleAnchor": "middle", "labelFontSize": 21.7, "labelColor": "black", "labelOffset": 13.5, "columnPadding": 9, "symbolType": "square", "symbolSize": 484, "symbolStrokeWidth": 3, "symbolStrokeColor": "transparent", "symbolOpacity": 0.3, "padding": 0}}
   }},
  {"mark": {"type": "line", "interpolate": "step-after", "strokeWidth": 3},
   "encoding": {
    "x": {"field": "x", "type": "quantitative"},
    "y": {"field": "y", "type": "quantitative"},
    "stroke": {"field": "g", "type": "nominal", "scale": {"range": ["#F2A093","#8DD3E3","#A7ADCB"]},
      "legend": {"orient": "none", "legendX": 187.5, "legendY": -64.5, "direction": "horizontal", "titleOrient": "left", "title": "Deprivation", "titleFontSize": 26.8, "titleFontWeight": "normal", "titleColor": "black", "titlePadding": 15, "titleBaseline": "middle", "titleAnchor": "middle", "titleOpacity": 0, "labelFontSize": 21.7, "labelColor": "black", "labelOpacity": 0, "labelOffset": 13.5, "columnPadding": 9, "symbolType": "M-0.82,0H0.82", "symbolSize": 484, "symbolStrokeWidth": 3, "symbolOpacity": 1, "padding": 0}}
   }}
 ]
},
{
 "width": 876, "height": 88.5,
 "title": {"text": "Number at risk", "anchor": "start", "frame": "group", "dx": -16.5, "offset": -31.25, "fontSize": 32.5, "fontWeight": "normal", "color": "black", "baseline": "alphabetic"},
 "resolve": {"scale": {"y": "independent"}},
 "layer": [
  {"data": {"name": "rC"}, "mark": {"type": "text", "fontSize": 19, "font": "Liberation Serif", "color": "black"},
   "encoding": {
    "x": {"field": "x", "type": "quantitative", "scale": {"domain": [49.16, 81.5], "nice": false, "zero": false},
      "axis": {"title": "Follow-up age, y", "values": [50,55,60,65,70,75,80], "domain": false, "tickColor": "black", "tickWidth": 2, "tickSize": 7, "labelFontSize": 21.5, "labelColor": "#4D4D4D", "labelPadding": 12, "labelBaseline": "middle", "titleFontSize": 27.3, "titleFontWeight": "normal", "titleColor": "black", "titleBaseline": "middle", "titleY": 48.5, "titleX": 429.75, "titleAlign": "center"}},
    "y": {"field": "g", "type": "nominal", "scale": {"type": "point", "padding": 0.6, "domain": ["0 ACEs","1 ACEs","≥2 ACEs"]},
      "axis": {"title": "Deprivation", "offset": 16.5, "domainColor": "black", "domainWidth": 2.5, "ticks": false, "tickSize": 0, "labelExpr": "'▬'", "labelFont": "DejaVu Sans", "labelFontSize": 23, "labelPadding": 16, "titleFontSize": 26.5, "titleFontWeight": "normal", "titleColor": "black", "titleBaseline": "middle", "titleX": -57.5,
        "labelColor": {"condition": [{"test": "datum.value === '0 ACEs'", "value": "#F2A093"}, {"test": "datum.value === '1 ACEs'", "value": "#8DD3E3"}], "value": "#A7ADCB"}}},
    "text": {"field": "n", "type": "quantitative", "format": "d"}
   }},
  {"data": {"values": [{}]}, "mark": {"type": "rule", "color": "black", "strokeWidth": 2.5},
   "encoding": {"x": {"datum": 48.55, "type": "quantitative"}, "x2": {"datum": 81.5}, "y": {"datum": 0, "type": "quantitative", "scale": {"domain": [0, 1]}, "axis": null}}}
 ]
},
{
 "width": 876, "height": 88.5,
 "title": {"text": "Number at risk", "anchor": "start", "frame": "group", "dx": -16.5, "offset": -31.25, "fontSize": 32.5, "fontWeight": "normal", "color": "black", "baseline": "alphabetic"},
 "resolve": {"scale": {"y": "independent"}},
 "layer": [
  {"data": {"name": "rD"}, "mark": {"type": "text", "fontSize": 19, "font": "Liberation Serif", "color": "black"},
   "encoding": {
    "x": {"field": "x", "type": "quantitative", "scale": {"domain": [49.16, 81.5], "nice": false, "zero": false},
      "axis": {"title": "Follow-up age, y", "values": [50,55,60,65,70,75,80], "domain": false, "tickColor": "black", "tickWidth": 2, "tickSize": 7, "labelFontSize": 21.5, "labelColor": "#4D4D4D", "labelPadding": 12, "labelBaseline": "middle", "titleFontSize": 27.3, "titleFontWeight": "normal", "titleColor": "black", "titleBaseline": "middle", "titleY": 48.5, "titleX": 429.75, "titleAlign": "center"}},
    "y": {"field": "g", "type": "nominal", "scale": {"type": "point", "padding": 0.6, "domain": ["0 ACEs","1 ACEs","≥2 ACEs"]},
      "axis": {"title": "Deprivation", "offset": 16.5, "domainColor": "black", "domainWidth": 2.5, "ticks": false, "tickSize": 0, "labelExpr": "'▬'", "labelFont": "DejaVu Sans", "labelFontSize": 23, "labelPadding": 16, "titleFontSize": 26.5, "titleFontWeight": "normal", "titleColor": "black", "titleBaseline": "middle", "titleX": -57.5,
        "labelColor": {"condition": [{"test": "datum.value === '0 ACEs'", "value": "#F2A093"}, {"test": "datum.value === '1 ACEs'", "value": "#8DD3E3"}], "value": "#A7ADCB"}}},
    "text": {"field": "n", "type": "quantitative", "format": "d"}
   }},
  {"data": {"values": [{}]}, "mark": {"type": "rule", "color": "black", "strokeWidth": 2.5},
   "encoding": {"x": {"datum": 48.55, "type": "quantitative"}, "x2": {"datum": 81.5}, "y": {"datum": 0, "type": "quantitative", "scale": {"domain": [0, 1]}, "axis": null}}}
 ]
}
]
}
]
}
